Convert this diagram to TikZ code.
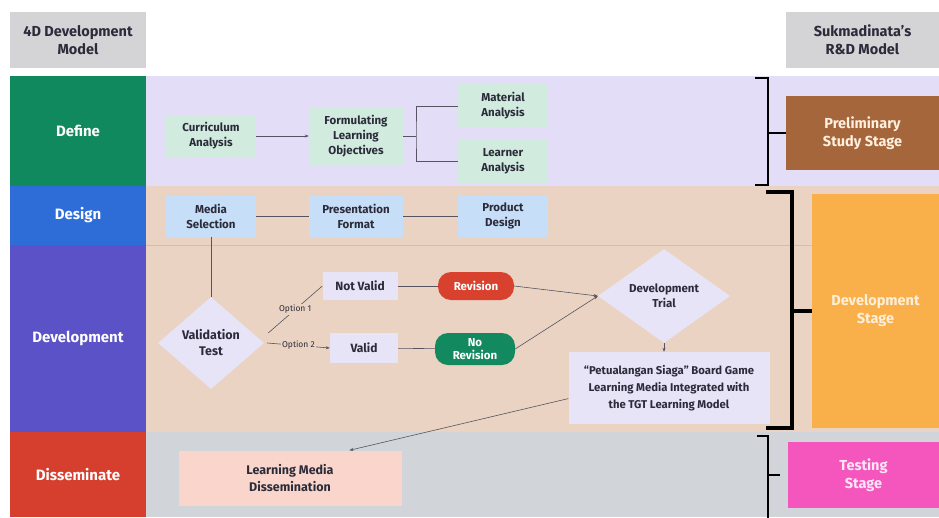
\documentclass[tikz,border=0pt]{standalone}
\usepackage{fontspec}
\setmainfont{Fira Sans}
\usetikzlibrary{shapes.geometric,arrows.meta}

\definecolor{headgray}{HTML}{D4D4D7}
\definecolor{defgreen}{HTML}{11895F}
\definecolor{desblue}{HTML}{2E6DD8}
\definecolor{devpurple}{HTML}{5A52C6}
\definecolor{disred}{HTML}{D63F2E}
\definecolor{lavband}{HTML}{E3DDF8}
\definecolor{peachband}{HTML}{EAD3C3}
\definecolor{peachline}{HTML}{D9BBA8}
\definecolor{grayband}{HTML}{D1D5D9}
\definecolor{boxgreen}{HTML}{D1ECDF}
\definecolor{boxblue}{HTML}{C6DEF7}
\definecolor{boxlav}{HTML}{E7E4F8}
\definecolor{boxpink}{HTML}{F9D5CB}
\definecolor{pillred}{HTML}{D8412E}
\definecolor{pillgreen}{HTML}{12895E}
\definecolor{stbrown}{HTML}{A6663B}
\definecolor{storange}{HTML}{F9B04A}
\definecolor{stpink}{HTML}{F456BE}
\definecolor{ink}{HTML}{2B2B3A}

\begin{document}
\begin{tikzpicture}[x=1pt,y=-1pt,
		phase/.style={align=center,text=white,inner sep=0pt,font=\fontsize{15}{18}\selectfont\bfseries},
		head/.style={align=center,fill=headgray,text=ink,inner sep=0pt,minimum width=136pt,minimum height=56pt,font=\fontsize{14.5}{18}\selectfont\bfseries},
		stage/.style={align=center,inner sep=0pt,font=\fontsize{14.5}{18}\selectfont\bfseries},
		box/.style={align=center,text=ink,inner sep=2pt,font=\fontsize{11.5}{15}\selectfont\bfseries},
		pill/.style={box,text=white,rounded corners=13pt,font=\fontsize{11.5}{14}\selectfont\bfseries},
		choice/.style={box,diamond,fill=boxlav,inner sep=0pt},
		opt/.style={fill=peachband,inner sep=1pt,text=ink,font=\fontsize{8.5}{9}\selectfont},
		arr/.style={-{Stealth[length=4pt,width=3pt]}},
		link/.style={draw=ink!80,line width=0.6pt}]
	\useasboundingbox (0,0) rectangle (939,517);
	\fill[white] (0,0) rectangle (939,517);
	% bands
	\fill[lavband] (146,76) rectangle (939,186);
	\fill[peachband] (146,186) rectangle (939,432);
	\fill[grayband] (146,432) rectangle (939,517);
	\draw[peachline,line width=0.8pt] (146,245) -- (812,245);
	% headers
	\node[head] (hleft) at (78,40) {4D Development\\Model};
	\node[head,minimum width=153pt] (hright) at (862.5,40) {Sukmadinata's\\R\&D Model};
	% 4D phases
	\node[phase,fill=defgreen,minimum width=136pt,minimum height=110pt] (define) at (78,131) {Define};
	\node[phase,fill=desblue,minimum width=136pt,minimum height=59pt] (design) at (78,215.5) {Design};
	\node[phase,fill=devpurple,minimum width=136pt,minimum height=187pt] (devel) at (78,338.5) {Development};
	\node[phase,fill=disred,minimum width=136pt,minimum height=85pt] (dissem) at (78,474.5) {Disseminate};
	% R&D stages
	\node[stage,fill=stbrown,text=white!88!orange,minimum width=153pt,minimum height=74pt] (prelim) at (862.5,133) {Preliminary\\Study Stage};
	\node[stage,fill=storange,text=white!80!storange,minimum width=127pt,minimum height=234pt] (devstage) at (875.5,311) {Development\\Stage};
	\node[stage,fill=stpink,text=white!85!stpink,minimum width=151pt,minimum height=66pt] (testing) at (863.5,475) {Testing\\Stage};
	% define
	\node[box,fill=boxgreen,minimum width=90pt,minimum height=43pt] (curr) at (211,136) {Curriculum\\Analysis};
	\node[box,fill=boxgreen,minimum width=94pt,minimum height=58pt] (form) at (356,136) {Formulating\\Learning\\Objectives};
	\node[box,fill=boxgreen,minimum width=90pt,minimum height=44pt] (mat) at (503,106) {Material\\Analysis};
	\node[box,fill=boxgreen,minimum width=90pt,minimum height=44pt] (learn) at (503,161) {Learner\\Analysis};
	\coordinate (fork) at (416,136);
	\draw[link,arr] (curr) -- (form);
	\draw[link] (form.east) -- (fork);
	\draw[link] (mat.west) -| (fork) |- (learn.west);
	% design
	\node[box,fill=boxblue,minimum width=90pt,minimum height=41pt] (media) at (211,216) {Media\\Selection};
	\node[box,fill=boxblue,minimum width=94pt,minimum height=41pt] (pres) at (356,216) {Presentation\\Format};
	\node[box,fill=boxblue,minimum width=90pt,minimum height=41pt] (prod) at (503,216) {Product\\Design};
	\draw[link] (media) -- (pres);
	\draw[link] (pres) -- (prod);
	% development
	\node[choice,minimum width=106pt,minimum height=92pt,font=\fontsize{12.5}{16}\selectfont\bfseries] (valtest) at (211,343) {Validation\\Test};
	\node[box,fill=boxlav,minimum width=75pt,minimum height=28pt,font=\fontsize{12}{14}\selectfont\bfseries] (notvalid) at (360,286) {Not Valid};
	\node[box,fill=boxlav,minimum width=68pt,minimum height=30pt,font=\fontsize{12}{14}\selectfont\bfseries] (valid) at (364,348) {Valid};
	\node[pill,fill=pillred,minimum width=76pt,minimum height=28pt] (revision) at (476,286) {Revision};
	\node[pill,fill=pillgreen,minimum width=80pt,minimum height=32pt,font=\fontsize{11.5}{13}\selectfont\bfseries] (norev) at (475,349) {No\\Revision};
	\node[choice,minimum width=132pt,minimum height=84pt] (trial) at (664,296) {Development\\Trial};
	\node[box,fill=boxlav,minimum width=201pt,minimum height=72pt,font=\fontsize{11.3}{17}\selectfont\bfseries] (petu) at (669,388) {``Petualangan Siaga'' Board Game\\Learning Media Integrated with\\the TGT Learning Model};
	\draw[link] (media) -- (valtest);
	\draw[link] ([shift={(4,-10)}]valtest.east) -- node[opt] {Option 1} (notvalid.west);
	\draw[link,arr] ([shift={(3,0)}]valtest.east) -- node[opt] {Option 2} (valid.west);
	\draw[link] (notvalid) -- (revision);
	\draw[link] (valid) -- (norev);
	\draw[link,arr] (revision.east) -- (trial.west);
	\draw[link,arr] (norev.east) -- (trial.west);
	\draw[link,arr] (trial.south) -- (trial.south |- petu.north);
	% disseminate
	\node[box,fill=boxpink,minimum width=223pt,minimum height=55pt,font=\fontsize{12.5}{17}\selectfont\bfseries] (dissbox) at (290,478) {Learning Media\\Dissemination};
	\draw[link,arr] (petu.186) -- (dissbox.25);
	% brackets
	\draw[line width=1.6pt] (755,78) -- (768,78) -- (768,185) -- (755,185);
	\draw[line width=1.6pt] (768,133) -- (prelim.west);
	\draw[line width=4pt] (766,192) -- (792,192) -- (792,428) -- (766,428);
	\draw[line width=4pt] (792,311) -- (devstage.west);
	\draw[line width=1.6pt] (757,436) -- (768,436) -- (768,520);
	\draw[line width=1.6pt] (768,475) -- (780,475);
\end{tikzpicture}
\end{document}
